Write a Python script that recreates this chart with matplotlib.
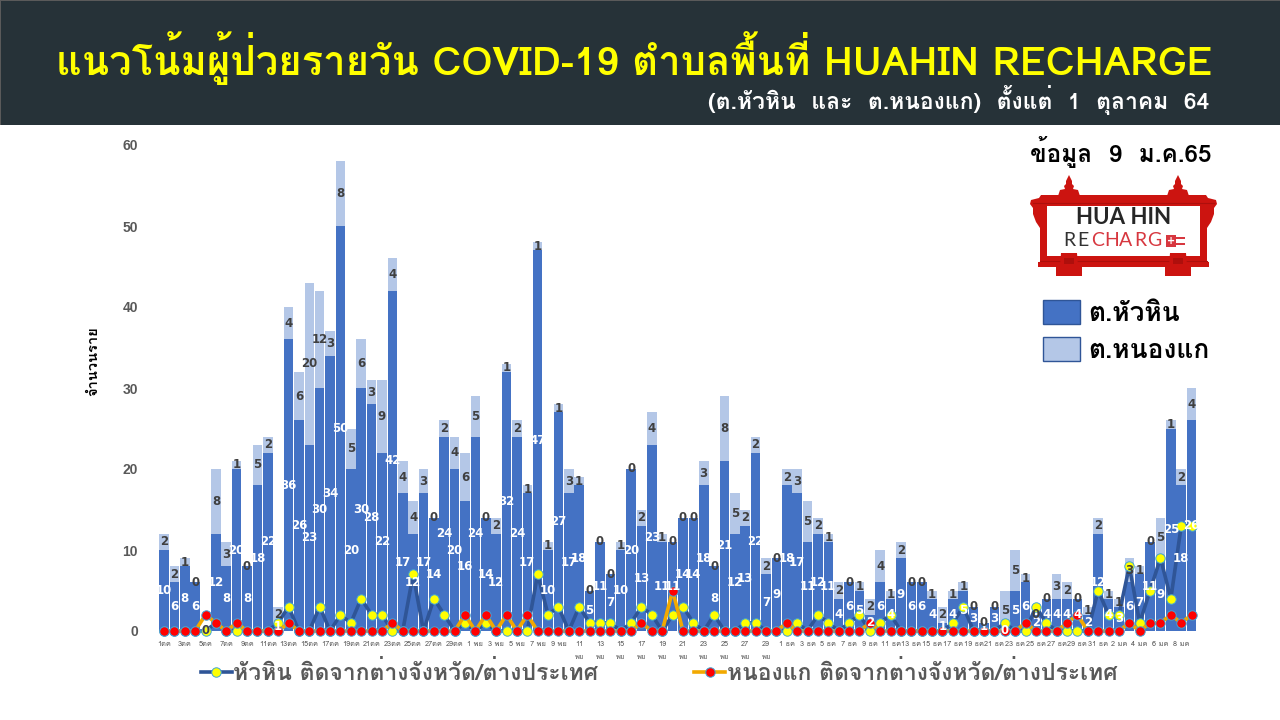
import matplotlib
matplotlib.use("Agg")
import numpy as np
import matplotlib.pyplot as plt
from matplotlib.patches import Rectangle, Polygon, Patch

THAI = ['Loma', 'Noto Sans Thai', 'DejaVu Sans']
plt.rcParams['font.family'] = THAI

# ผู้ป่วยรายวัน 1 ต.ค. 64 - 9 ม.ค. 65
huahin = [10, 6, 8, 6, 0, 12, 8, 20, 8, 18, 22, 1, 36, 26, 23, 30, 34, 50, 20, 30,
          28, 22, 42, 17, 12, 17, 14, 24, 20, 16, 24, 14, 12, 32, 24, 17, 47, 10, 27, 17,
          18, 5, 11, 7, 10, 20, 13, 23, 11, 11, 14, 14, 18, 8, 21, 12, 13, 22, 7, 9,
          18, 17, 11, 12, 11, 4, 6, 5, 2, 6, 4, 9, 6, 6, 4, 1, 4, 5, 3, 1,
          3, 0, 5, 6, 2, 4, 4, 4, 4, 2, 12, 4, 3, 6, 7, 11, 9, 25, 18, 26]
nongkae = [2, 2, 1, 0, 0, 8, 3, 1, 0, 5, 2, 2, 4, 6, 20, 12, 3, 8, 5, 6,
           3, 9, 4, 4, 4, 3, 0, 2, 4, 6, 5, 0, 2, 1, 2, 1, 1, 1, 1, 3,
           1, 0, 0, 0, 1, 0, 2, 4, 1, 0, 0, 0, 3, 0, 8, 5, 2, 2, 2, 0,
           2, 3, 5, 2, 1, 2, 0, 1, 2, 4, 1, 2, 0, 0, 1, 2, 1, 1, 0, 0,
           0, 5, 5, 1, 0, 0, 3, 2, 0, 1, 2, 1, 1, 3, 1, 0, 5, 1, 2, 4]
# ติดจากต่างจังหวัด/ต่างประเทศ
import_huahin = [0, 0, 0, 0, 0, 1, 0, 0, 0, 0, 0, 1, 3, 0, 0, 3, 0, 2, 1, 4,
                 2, 2, 0, 0, 7, 0, 4, 2, 0, 1, 0, 1, 0, 0, 0, 0, 7, 2, 3, 0,
                 3, 1, 1, 1, 0, 1, 3, 2, 0, 2, 3, 1, 0, 2, 0, 0, 1, 1, 0, 0,
                 0, 1, 0, 2, 1, 0, 1, 2, 0, 1, 2, 0, 0, 0, 0, 0, 1, 3, 0, 0,
                 0, 1, 0, 0, 3, 1, 0, 0, 0, 0, 5, 2, 2, 8, 1, 5, 9, 4, 13, 13]
import_nongkae = [0, 0, 0, 0, 2, 1, 0, 1, 0, 0, 0, 0, 1, 0, 0, 0, 0, 0, 0, 0,
                  0, 0, 1, 0, 0, 0, 0, 0, 0, 2, 0, 2, 0, 2, 0, 2, 0, 0, 0, 0,
                  0, 0, 0, 0, 0, 0, 1, 0, 0, 5, 0, 0, 0, 0, 0, 0, 0, 0, 0, 0,
                  1, 0, 0, 0, 0, 0, 0, 0, 1, 0, 0, 0, 0, 0, 0, 0, 0, 0, 0, 0,
                  0, 0, 0, 1, 0, 0, 0, 1, 2, 0, 0, 0, 0, 1, 0, 1, 1, 2, 1, 2]

tick_labels = ['1ตค', '3ตค', '5ตค', '7ตค', '9ตค', '11ตค', '13ตค', '15ตค', '17ตค', '19ตค',
               '21ตค', '23ตค', '25ตค', '27ตค', '29ตค',
               '1 พย', '3 พย', '5 พย', '7 พย', '9 พย', '11\n\nพย', '13\n\nพย', '15\n\nพย',
               '17\n\nพย', '19\n\nพย', '21\n\nพย', '23\n\nพย', '25\n\nพย', '27\n\nพย', '29\n\nพย',
               '1 ธค', '3 ธค', '5 ธค', '7 ธค', '9 ธค', '11 ธค', '13 ธค', '15 ธค', '17 ธค', '19 ธค',
               '21 ธค', '23 ธค', '25 ธค', '27 ธค', '29 ธค', '31 ธค',
               '2 มค', '4 มค', '6 มค', '8 มค']

BLUE = '#4472C4'
LIGHT = '#B4C7E7'
W, H = 1280, 720


def px_axes(fig, left, top, right, bottom):
    return fig.add_axes([left / W, 1 - bottom / H, (right - left) / W, (bottom - top) / H])


def draw_logo(ov):
    red = '#CC1410'
    dark_red = '#AE0F0C'
    mid = 1123.5
    half = [(1041, 195), (1039, 198), (1031, 200), (1030, 204), (1033, 208), (1033, 214),
            (1036, 222), (1040, 228), (1040, 262), (1038, 262), (1038, 267)]
    outline = half + [(2 * mid - px, py) for px, py in reversed(half)]
    ov.add_patch(Polygon(outline, fc=red, ec='none', zorder=2))
    ov.add_patch(Rectangle((1047, 206), 153, 50, fc='white', ec='none', zorder=3))
    ov.plot([1033, 1214], [203, 203], color=dark_red, lw=0.8, zorder=4)
    ov.plot([1040, 1207], [261, 261], color=dark_red, lw=0.8, zorder=4)
    # ยอดและฐาน
    spire = [(0, 175), (3, 181), (3, 184), (5, 186), (4, 189), (9, 190), (11, 196),
             (-11, 196), (-9, 190), (-4, 189), (-5, 186), (-3, 184), (-3, 181)]
    foot = [(-8, 253), (8, 253), (9, 266), (13, 267), (13, 276), (-13, 276), (-13, 267), (-9, 266)]
    for cx in (1069, 1178):
        ov.add_patch(Polygon([(cx + dx, py) for dx, py in spire], fc=red, ec='none', zorder=4))
        ov.add_patch(Polygon([(cx + dx, py) for dx, py in foot], fc=red, ec='none', zorder=4))
        ov.add_patch(Rectangle((cx - 5, 258), 10, 6, fc=dark_red, ec='none', zorder=5))
    ov.text(1123.5, 218, 'HUA HIN', family='Lato', weight='bold', fontsize=16, color='#262626',
            ha='center', va='center', zorder=5)
    for i, ch in enumerate('RECHARG'):
        ov.text(1069 + i * 14.2, 241, ch, family='Lato', fontsize=14, ha='center', va='center',
                color='#333333' if i < 2 else '#D7373F', zorder=5)
    ov.add_patch(Rectangle((1166, 235), 10, 12, fc='#D7373F', ec='none', zorder=5))
    ov.add_patch(Rectangle((1176, 237), 9, 2, fc='#D7373F', ec='none', zorder=5))
    ov.add_patch(Rectangle((1176, 243), 9, 2, fc='#D7373F', ec='none', zorder=5))
    ov.text(1171, 241, '+', family='DejaVu Sans', weight='bold', fontsize=7, color='white',
            ha='center', va='center', zorder=6)


fig = plt.figure(figsize=(W / 100, H / 100), dpi=100, facecolor='white')

# พื้นหลัง หัวเรื่อง
ov = fig.add_axes([0, 0, 1, 1], zorder=0)
ov.set_xlim(0, W)
ov.set_ylim(H, 0)
ov.axis('off')
ov.add_patch(Rectangle((0, 0), W, 125, fc='#263238', ec='none'))
ov.add_patch(Rectangle((0, 0), W, 1.2, fc='#5A5A5A', ec='none'))
ov.add_patch(Rectangle((0, 0), 1.2, 125, fc='#5A5A5A', ec='none'))
ov.text(56, 58, 'แนวโน้มผู้ป่วยรายวัน COVID-19 ตำบลพื้นที่ HUAHIN RECHARGE', color='#FFFF00',
        weight='bold', fontsize=28.8, va='center', ha='left')
ov.text(1209, 100, '(ต.หัวหิน  และ  ต.หนองแก)  ตั้งแต่  1  ตุลาคม  64', color='white', weight='bold',
        fontsize=16.5, va='center', ha='right')
ov.text(1211, 152, 'ข้อมูล  9  ม.ค.65', color='black', weight='bold', fontsize=17.5, va='center', ha='right')
ov.text(93, 361, 'จำนวนราย', color='black', weight='bold', fontsize=10.5, rotation=90, va='center', ha='center')
draw_logo(ov)

ax = px_axes(fig, 158.8, 145, 1196.8, 631)
ax.set_zorder(1)
ax.patch.set_alpha(0)
x = np.arange(len(huahin))
hh = np.array(huahin)
nk = np.array(nongkae)

ax.bar(x, hh, width=0.92, color=BLUE, zorder=2)
ax.bar(x, nk, width=0.92, bottom=hh, color=LIGHT, zorder=2)

line_hh, = ax.plot(x, import_huahin, color='#2F5597', lw=2.6, marker='o', ms=6.8, mfc='#FFFF00',
                   mec='#3FA4D8', mew=0.7, zorder=3, clip_on=False,
                   label='หัวหิน ติดจากต่างจังหวัด/ต่างประเทศ')
line_nk, = ax.plot(x, import_nongkae, color='#F2A900', lw=2.6, marker='o', ms=6.8, mfc='#FF0000',
                   mec='#3FA4D8', mew=0.7, zorder=4, clip_on=False,
                   label='หนองแก ติดจากต่างจังหวัด/ต่างประเทศ')

for i in x:
    ax.text(i, hh[i] / 2, str(hh[i]), color='white', family='DejaVu Sans', weight='bold', fontsize=8.5,
            ha='center', va='center', zorder=5, clip_on=False)
    ax.text(i, hh[i] + nk[i] / 2, str(nk[i]), color='#404040', family='DejaVu Sans', weight='bold', fontsize=8.5,
            ha='center', va='center', zorder=5, clip_on=False)

ax.set_xlim(-0.5, 99.5)
ax.set_ylim(0, 60)
ax.set_yticks(range(0, 61, 10))
ax.set_xticks(range(0, 100, 2))
ax.set_xticklabels(tick_labels, fontsize=5.3, color='#595959', linespacing=0.9)
ax.tick_params(axis='both', length=0)
ax.tick_params(axis='x', pad=7)
ax.tick_params(axis='y', pad=15)
for lab in ax.get_yticklabels():
    lab.set(family='Liberation Sans', weight='bold', fontsize=10, color='#595959')
for s in ax.spines.values():
    s.set_visible(False)

fig.legend(handles=[line_hh, line_nk], loc='upper left', bbox_to_anchor=(201 / W, 1 - 660 / H), ncol=2,
           frameon=False, labelcolor='#595959', prop={'family': THAI, 'weight': 'bold', 'size': 16.5},
           handlelength=1.35, handletextpad=0.05, columnspacing=4.2, borderpad=0, borderaxespad=0)
box_handles = [Patch(fc=BLUE, ec='#2F5597', lw=1, label='ต.หัวหิน'),
               Patch(fc=LIGHT, ec='#2F5597', lw=1, label='ต.หนองแก')]
fig.legend(handles=box_handles, loc='upper left', bbox_to_anchor=(1043 / W, 1 - 300 / H),
           frameon=False, prop={'family': THAI, 'weight': 'bold', 'size': 19},
           handlelength=1.4, handleheight=1.0, handletextpad=0.3, labelspacing=0.42, borderpad=0, borderaxespad=0)

fig.savefig('out.png', dpi=100)
